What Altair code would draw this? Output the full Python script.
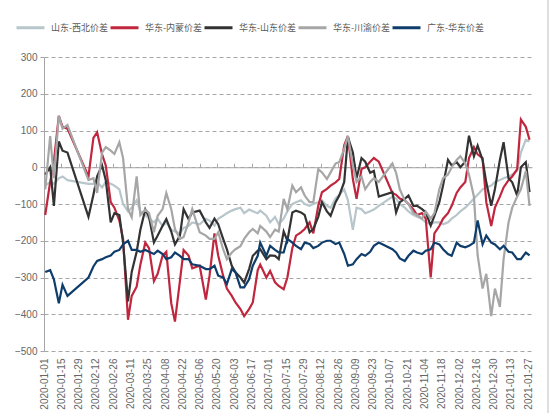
import altair as alt
import pandas as pd

# ---- data ----
dates = [
    "2020-01-02", "2020-01-06", "2020-01-09", "2020-01-13", "2020-01-16", "2020-01-20",
    "2020-02-06", "2020-02-10", "2020-02-13", "2020-02-17", "2020-02-20", "2020-02-24", "2020-02-27",
    "2020-03-02", "2020-03-05", "2020-03-09", "2020-03-12", "2020-03-16", "2020-03-19", "2020-03-23", "2020-03-26", "2020-03-30",
    "2020-04-02", "2020-04-06", "2020-04-09", "2020-04-13", "2020-04-16", "2020-04-20", "2020-04-23", "2020-04-27", "2020-04-30",
    "2020-05-06", "2020-05-11", "2020-05-14", "2020-05-18", "2020-05-21", "2020-05-25", "2020-05-28",
    "2020-06-01", "2020-06-04", "2020-06-08", "2020-06-11", "2020-06-15", "2020-06-18", "2020-06-22", "2020-06-24", "2020-06-29",
    "2020-07-02", "2020-07-06", "2020-07-09", "2020-07-13", "2020-07-16", "2020-07-20", "2020-07-23", "2020-07-27", "2020-07-30",
    "2020-08-03", "2020-08-06", "2020-08-10", "2020-08-13", "2020-08-17", "2020-08-20", "2020-08-24", "2020-08-27", "2020-08-31",
    "2020-09-03", "2020-09-07", "2020-09-10", "2020-09-14", "2020-09-17", "2020-09-21", "2020-09-24", "2020-09-28",
    "2020-10-09", "2020-10-12", "2020-10-15", "2020-10-19", "2020-10-22", "2020-10-26", "2020-10-29",
    "2020-11-02", "2020-11-05", "2020-11-09", "2020-11-12", "2020-11-16", "2020-11-19", "2020-11-23", "2020-11-26", "2020-11-30",
    "2020-12-03", "2020-12-07", "2020-12-10", "2020-12-14", "2020-12-17", "2020-12-21", "2020-12-24", "2020-12-28", "2020-12-31",
    "2021-01-04", "2021-01-07", "2021-01-11", "2021-01-14", "2021-01-18", "2021-01-21", "2021-01-25", "2021-01-28",
]

shandong_xibei = [
    -50, -40, -45, -30, -25, -35,
    -45, -45, -40, -55, -40, -45, -50,
    -60, -100, -120, -110, -90, -120, -130, -140, -150,
    -140, -160, -150, -170, -175, -180, -165, -160, -150,
    -155, -140, -145, -159, -140, -132, -125,
    -118, -114, -110, -125, -115, -120, -125, -118, -132,
    -150, -135, -155, -140, -120, -100, -95, -90, -100,
    -105, -100, -95, -90, -105, -110, -85, -75, -60,
    -90, -170, -110, -114, -125, -120, -115, -105,
    -80, -85, -100, -110, -120, -130, -135,
    -141, -150, -155, -150, -150, -155, -150, -140, -130,
    -120, -110, -100, -85, -75, -60, -55, -50, -40,
    -35, -30, -25, -20, -10, 40, 75, 70,
]

huadong_neimeng = [
    -130, -40, 15, 140, 110, 105,
    -25, 80, 95, 35, 5, -95, -110,
    -145, -195, -415, -350, -325, -265, -205, -220, -310,
    -290, -240, -230, -370, -420, -310, -225, -240, -275,
    -268, -360, -295, -180, -240, -295, -330,
    -350, -368, -386, -405, -386, -368, -280, -265, -300,
    -282, -313, -323, -332, -300, -220, -186, -177, -168,
    -150, -180, -105, -68, -59, -50, -41, -32, 60,
    85, -32, -86, -5, 0, 15, 25, 15,
    -70, -75, -85, -90, -100, -115, -130,
    -125, -140, -300, -180, -160, -140, -125, -105, -70,
    -55, -40, 25, 55, 35, 25, -95, -160, -110,
    -80, -55, -35, -25, -5, 130, 110, 75,
]

huadong_shandong = [
    -20, 0, -105, 70, 45, 40,
    -135, -75, -25, 5, -35, -150, -125,
    -130, -205, -365, -285, -230, -170, -115, -135, -205,
    -186, -159, -141, -175, -210, -186, -114, -141, -123,
    -118, -150, -165, -140, -155, -195, -223,
    -268, -286, -300, -314, -277, -241, -227, -223, -250,
    -240, -241, -250, -175, -200, -123, -118, -123, -130,
    -177, -168, -135, -95, -120, -132, -95, -77, -40,
    82, 40, -30, 25, 15, -15, -10, -80,
    -68, -123, -95, -86, -77, -105, -105,
    -114, -123, -159, -132, -95, -50, 20, 5, 14,
    0, 15, 86, 30, 59, 20, -41, -105, -59,
    20, 68, -30, -41, -77, 0, 14, -68,
]

huadong_chuanyu = [
    -60, 85, -30, 140, 105, 115,
    -35, -30, -70, 40, 55, 45, 36,
    68, 25, -114, -136, -25, -130, -115, -125, -177,
    -132, -114, -70, -114, -168, -195, -190, -150, -114,
    -177, -186, -195, -195, -177, -223, -250,
    -232, -223, -215, -195, -177, -168, -180, -160, -175,
    -190, -170, -175, -86, -114, -50, -68, -55, -77,
    -95, -95, -5, -14, -32, -14, 10, 14, 50,
    85, 5, -40, -25, -60, -40, -30, -40,
    10, -15, -60, -90, -100, -125, -130,
    -140, -120, -140, -125, -60, -30, -20, 0, 20,
    30, 10, -20, -80, -240, -330, -290, -405, -330,
    -380, -250, -150, -110, -80, -60, -10, -105,
]

guangdong_huadong = [
    -285, -280, -305, -370, -320, -350,
    -300, -270, -255, -250, -245, -240, -230,
    -225, -210, -200, -225, -225, -230, -225, -230, -236,
    -227, -236, -250, -245, -232, -241, -250, -250, -264,
    -268, -277, -277, -268, -295, -300, -318,
    -277, -286, -327, -327, -305, -268, -241, -205, -241,
    -214, -225, -232, -232, -195, -205, -214, -223, -205,
    -209, -220, -214, -205, -200, -200, -209, -205, -236,
    -268, -264, -250, -236, -241, -230, -214, -205,
    -223, -232, -248, -255, -241, -227, -232,
    -236, -227, -223, -205, -210, -223, -236, -241, -205,
    -214, -218, -214, -205, -145, -210, -186, -205, -210,
    -223, -214, -230, -232, -250, -250, -232, -240,
]

series_names = ["山东-西北价差", "华东-内蒙价差", "华东-山东价差", "华东-川渝价差", "广东-华东价差"]
series_colors = ["#b7c6cb", "#c0263e", "#333333", "#a6a6a6", "#0f3d6b"]
series_values = [shandong_xibei, huadong_neimeng, huadong_shandong, huadong_chuanyu, guangdong_huadong]

y_ticks = [-500, -400, -300, -200, -100, 0, 100, 200, 300]
x_tick_labels = list(pd.date_range("2020-01-01", "2021-01-27", freq="14D"))

for vals in series_values:
    assert len(vals) == len(dates), len(vals)

rows = []
for name, vals in zip(series_names, series_values):
    for d, v in zip(dates, vals):
        rows.append({"date": d + "T00:00:00", "series": name, "value": v})
df = pd.DataFrame(rows)

# ---- styling ----
GRID = "#a6a6a6"
LABEL = "#666666"
tick_values = [alt.DateTime(year=t.year, month=t.month, date=t.day) for t in x_tick_labels]

x_scale = alt.Scale(domain=[alt.DateTime(year=2020, month=1, date=1),
                            alt.DateTime(year=2021, month=1, date=30)])
y_scale = alt.Scale(domain=[-500, 300], nice=False)

y_axis = alt.Axis(values=y_ticks, grid=True, gridDash=[4, 3], gridColor=GRID,
                  domainColor=GRID, tickColor=GRID, tickSize=4,
                  labelColor=LABEL, labelFont="Liberation Sans", labelFontSize=10,
                  labelPadding=3, title=None)

x_axis_bottom = alt.Axis(values=tick_values, format="%Y-%m-%d", labelAngle=-90,
                         labelColor=LABEL, labelFont="Liberation Sans", labelFontSize=10,
                         labelPadding=7, domain=False, ticks=False, grid=False,
                         title=None, labelOverlap=False)

color = alt.Color("series:N", title=None,
                  scale=alt.Scale(domain=series_names, range=series_colors),
                  legend=alt.Legend(orient="none", legendX=-29, legendY=-45,
                                    direction="horizontal", columns=5,
                                    symbolType="stroke", symbolSize=784,
                                    symbolStrokeWidth=3, labelFont="Noto Sans CJK SC",
                                    labelFontSize=9, labelColor="#595959",
                                    labelOffset=5, columnPadding=-18, labelLimit=0))

line_layers = []
for name in series_names:
    line_layers.append(
        alt.Chart(df).transform_filter(alt.datum.series == name)
        .mark_line(strokeWidth=2.2, clip=True)
        .encode(x=alt.X("date:T", scale=x_scale, axis=x_axis_bottom),
                y=alt.Y("value:Q", scale=y_scale, axis=y_axis),
                color=color)
    )
lines = alt.layer(*line_layers)

zero_df = pd.DataFrame({"date": ["2020-06-01T00:00:00"], "value": [0]})
zero_axis = (
    alt.Chart(zero_df).mark_point(opacity=0)
    .encode(x=alt.X("date:T", scale=x_scale,
                    axis=alt.Axis(orient="top", offset=-110.25, values=tick_values,
                                  labels=False, ticks=True, tickSize=4, tickColor=GRID,
                                  domain=True, domainColor=GRID, grid=False, title=None)),
            y=alt.Y("value:Q", scale=y_scale, axis=y_axis))
)

# thin frame line at the right edge of the picture
frame = (
    alt.Chart(zero_df).mark_rule(color="#bfbfbf", strokeWidth=1, clip=False)
    .encode(x=alt.value(504), y=alt.value(-57), y2=alt.value(356))
)

chart = (
    alt.layer(lines, zero_axis, frame)
    .resolve_axis(x="independent")
    .properties(width=488, height=294,
                autosize=alt.AutoSizeParams(type="none"),
                padding={"left": 44, "top": 57, "right": 18, "bottom": 62},
                background="white")
    .configure_view(strokeWidth=0)
)

chart.save("out.html", embed_options={"renderer": "svg", "actions": False})
